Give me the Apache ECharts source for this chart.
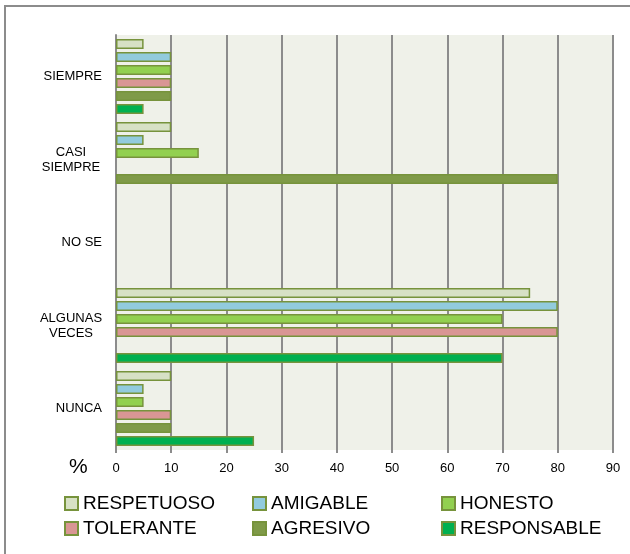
<!DOCTYPE html>
<html>
<head>
<meta charset="utf-8">
<script src="https://cdn.jsdelivr.net/npm/echarts@6/dist/echarts.min.js"></script>
<style>
  html, body { margin: 0; padding: 0; background: #fff; }
  #chart { width: 630px; height: 554px; }
</style>
</head>
<body>
<div id="chart"></div>
<script>
// categorias (de arriba hacia abajo)
var categorias = ['SIEMPRE', 'CASI\nSIEMPRE', 'NO SE', 'ALGUNAS\nVECES', 'NUNCA'];
var ticks = [0, 10, 20, 30, 40, 50, 60, 70, 80, 90];

// valores en % por serie
var respetuoso  = [5, 10, 0, 75, 10];
var amigable    = [10, 5, 0, 80, 5];
var honesto     = [10, 15, 0, 70, 5];
var tolerante   = [10, 0, 0, 80, 10];
var agresivo    = [10, 80, 0, 0, 10];
var responsable = [5, 0, 0, 70, 25];

var nombres = ['RESPETUOSO', 'AMIGABLE', 'HONESTO', 'TOLERANTE', 'AGRESIVO', 'RESPONSABLE'];
var valores = [respetuoso, amigable, honesto, tolerante, agresivo, responsable];
var colores = ['#d7e1c5', '#92cbdd', '#92d050', '#d99694', '#7f9a48', '#00b050'];

var myChart = echarts.init(document.getElementById('chart'));

var series = nombres.map(function (n, i) {
  return {
    name: n,
    type: 'bar',
    barWidth: 10,
    barGap: '30%',
    // 0 -> sin barra, como en la imagen
    data: valores[i].map(function (v) { return v === 0 ? null : v; }),
    itemStyle: { color: colores[i], borderColor: '#77933c', borderWidth: 1.5 }
  };
});

// leyenda: 3 columnas x 2 filas
function leyenda(left, items) {
  return {
    orient: 'vertical',
    left: left,
    top: 489,
    itemGap: 6,
    itemWidth: 13,
    itemHeight: 13,
    icon: 'rect',
    selectedMode: false,
    textStyle: { fontFamily: 'Liberation Sans', fontSize: 19, color: '#000' },
    data: items
  };
}

var option = {
  animation: false,
  textStyle: { fontFamily: 'Liberation Sans' },
  grid: {
    left: 116, right: 17, top: 35, bottom: 104,
    show: true, backgroundColor: '#eff1e9', borderWidth: 0
  },
  xAxis: {
    type: 'value',
    min: 0, max: 90, interval: 10,
    axisLine: { show: false },
    axisTick: { show: true, length: 3, lineStyle: { color: '#8c8c8c', width: 2 } },
    splitLine: { show: true, lineStyle: { color: '#8c8c8c', width: 2 } },
    axisLabel: {
      margin: 12, fontSize: 13, color: '#000',
      formatter: function (v) { return ticks.indexOf(v) >= 0 ? String(v) : ''; }
    }
  },
  yAxis: {
    type: 'category',
    inverse: true,
    data: categorias,
    axisLine: { show: true, lineStyle: { color: '#8c8c8c', width: 2 } },
    axisTick: { show: false },
    axisLabel: {
      margin: 14, fontSize: 13, color: '#000', align: 'right',
      formatter: function (v) {
        if (v.indexOf('\n') < 0) return v;
        return v.split('\n').map(function (s) { return '{c|' + s + '}'; }).join('\n');
      },
      rich: { c: { width: 62, align: 'center', fontSize: 13, color: '#000', lineHeight: 15 } }
    }
  },
  legend: [
    leyenda(59, ['RESPETUOSO', 'TOLERANTE']),
    leyenda(247, ['AMIGABLE', 'AGRESIVO']),
    leyenda(436, ['HONESTO', 'RESPONSABLE'])
  ],
  graphic: [
    { type: 'rect', shape: { x: 5, y: 6, width: 800, height: 800 },
      style: { fill: 'none', stroke: '#8c8c8c', lineWidth: 2 }, silent: true },
    { type: 'text', left: 69, top: 457,
      style: { text: '%', font: '21px Liberation Sans', fill: '#000' } }
  ],
  series: series
};

myChart.setOption(option);
</script>
</body>
</html>
